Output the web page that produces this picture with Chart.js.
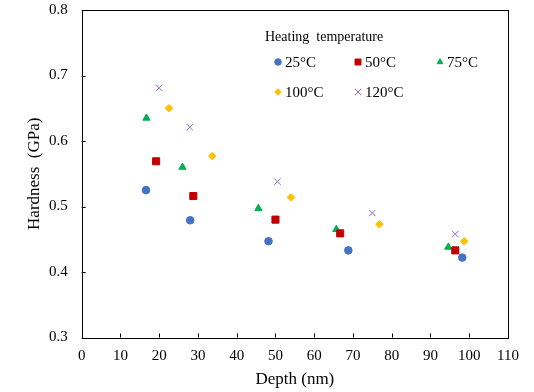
<!DOCTYPE html>
<html>
<head>
<meta charset="utf-8">
<script src="https://cdn.jsdelivr.net/npm/chart.js@4/dist/chart.umd.min.js"></script>
<style>
  body { margin: 0; background: #fff; }
  #wrap { width: 534px; height: 392px; }
</style>
</head>
<body>
<div id="wrap"><canvas id="myChart" width="534" height="392"></canvas></div>
<script>
// DU LIEU
var labels = ['25°C', '50°C', '75°C', '100°C', '120°C'];
var depth25 = [16.6, 28.0, 48.2, 68.8, 98.2];
var hard25 = [0.525, 0.479, 0.447, 0.433, 0.422];
var depth50 = [19.2, 28.8, 50.0, 66.7, 96.4];
var hard50 = [0.569, 0.516, 0.480, 0.459, 0.433];
var depth75 = [16.7, 26.0, 45.6, 65.7, 94.6];
var hard75 = [0.635, 0.560, 0.497, 0.465, 0.438];
var depth100 = [22.5, 33.7, 54.0, 76.8, 98.7];
var hard100 = [0.650, 0.577, 0.514, 0.473, 0.447];
var depth120 = [20.0, 27.9, 50.5, 75.0, 96.4];
var hard120 = [0.681, 0.621, 0.538, 0.490, 0.458];
var xTicks = [0, 10, 20, 30, 40, 50, 60, 70, 80, 90, 100, 110];
var yTicks = [0.3, 0.4, 0.5, 0.6, 0.7, 0.8];

var serif = "'Liberation Serif', 'Times New Roman', serif";

function pts(xs, ys) {
  var arr = [];
  for (var i = 0; i < xs.length; i++) arr.push({ x: xs[i], y: ys[i] });
  return arr;
}

var sets = [
  { label: labels[0], data: pts(depth25, hard25), pointStyle: 'circle', pointRadius: 3.8, color: '#4472C4' },
  { label: labels[1], data: pts(depth50, hard50), pointStyle: 'rect', pointRadius: 5, color: '#C00000' },
  { label: labels[2], data: pts(depth75, hard75), pointStyle: 'triangle', pointRadius: 4.2, color: '#00B050' },
  { label: labels[3], data: pts(depth100, hard100), pointStyle: 'rectRot', pointRadius: 3.8, color: '#FFC000' },
  { label: labels[4], data: pts(depth120, hard120), pointStyle: 'crossRot', pointRadius: 4.5, color: '#9067C6' }
];

var datasets = sets.map(function (s) {
  return {
    label: s.label,
    data: s.data,
    pointStyle: s.pointStyle,
    pointRadius: s.pointRadius,
    pointHoverRadius: s.pointRadius,
    backgroundColor: s.color,
    borderColor: s.color,
    borderWidth: 1,
    showLine: false
  };
});

// khung + vach chia huong vao trong + chu thich
var framePlugin = {
  id: 'frame',
  afterDraw: function (chart) {
    var c = chart.ctx;
    var a = chart.chartArea;
    var xs = chart.scales.x, ys = chart.scales.y;
    c.save();
    c.strokeStyle = '#000';
    c.lineWidth = 1;
    c.strokeRect(Math.round(a.left) + 0.5, Math.round(a.top) + 0.5,
      Math.round(a.right - a.left), Math.round(a.bottom - a.top));
    c.beginPath();
    xTicks.forEach(function (v) {
      var px = Math.round(xs.getPixelForValue(v)) + 0.5;
      c.moveTo(px, a.bottom);
      c.lineTo(px, a.bottom - 4);
    });
    yTicks.forEach(function (v) {
      var py = Math.round(ys.getPixelForValue(v)) + 0.5;
      c.moveTo(a.left, py);
      c.lineTo(a.left + 4, py);
    });
    c.stroke();

    // chu thich
    c.fillStyle = '#000';
    c.textBaseline = 'middle';
    c.textAlign = 'left';
    c.font = '14px ' + serif;
    c.fillText('Heating  temperature', 265, 37);
    var cols = [278, 358, 440];
    var rows = [62, 92];
    c.font = '15px ' + serif;
    sets.forEach(function (s, i) {
      var mx = cols[i % 3], my = rows[Math.floor(i / 3)];
      var r = s.pointStyle === 'rect' ? 4.2 : (s.pointStyle === 'crossRot' ? 4.5 : 3.3);
      if (Chart.helpers && Chart.helpers.drawPoint) {
        c.fillStyle = s.color;
        c.strokeStyle = s.color;
        c.lineWidth = 1;
        Chart.helpers.drawPoint(c, { pointStyle: s.pointStyle, radius: r, rotation: 0, borderWidth: 1 }, mx, my);
      }
      c.fillStyle = '#000';
      c.fillText(s.label, mx + 7, my + 1);
    });
    c.restore();
  }
};

const ctx = document.getElementById('myChart');
var myChart1 = new Chart(ctx, {
  type: 'scatter',
  data: { datasets: datasets },
  options: {
    responsive: false,
    animation: false,
    layout: { padding: { top: 10, right: 26, left: 0, bottom: 0 } },
    plugins: {
      legend: { display: false },
      tooltip: { enabled: false }
    },
    scales: {
      x: {
        type: 'linear',
        min: 0,
        max: 110,
        afterBuildTicks: function (scale) {
          scale.ticks = xTicks.map(function (v) { return { value: v }; });
        },
        afterFit: function (scale) {
          scale.height = 54.5;
          scale.paddingLeft = 0;
          scale.paddingRight = 0;
        },
        grid: { display: false, drawTicks: false },
        border: { display: false },
        ticks: {
          padding: 10,
          color: '#000',
          font: { family: serif, size: 15 },
          maxRotation: 0,
          autoSkip: false
        },
        title: {
          display: true,
          text: 'Depth (nm)',
          color: '#000',
          font: { family: serif, size: 17 },
          padding: { top: 0, bottom: 2 }
        }
      },
      y: {
        type: 'linear',
        min: 0.3,
        max: 0.8,
        afterBuildTicks: function (scale) {
          scale.ticks = yTicks.map(function (v) { return { value: v }; });
        },
        afterFit: function (scale) {
          scale.width = 81.7;
          scale.paddingTop = 0;
          scale.paddingBottom = 0;
        },
        grid: { display: false, drawTicks: false },
        border: { display: false },
        ticks: {
          padding: 14,
          color: '#000',
          font: { family: serif, size: 15 },
          callback: function (v) { return Number(v).toFixed(1); }
        },
        title: {
          display: true,
          text: 'Hardness  (GPa)',
          color: '#000',
          font: { family: serif, size: 17 },
          padding: { top: 24, bottom: 0 }
        }
      }
    }
  },
  plugins: [framePlugin]
});
</script>
</body>
</html>
